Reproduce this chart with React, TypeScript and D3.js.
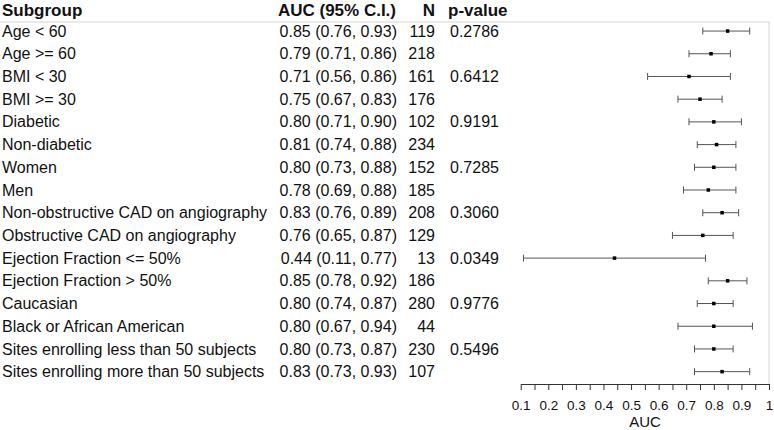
import React, { useEffect, useRef } from 'react';
import * as d3 from 'd3';

const subgroups = [
  'Age < 60', 'Age >= 60', 'BMI < 30', 'BMI >= 30', 'Diabetic', 'Non-diabetic',
  'Women', 'Men', 'Non-obstructive CAD on angiography', 'Obstructive CAD on angiography',
  'Ejection Fraction <= 50%', 'Ejection Fraction > 50%', 'Caucasian',
  'Black or African American', 'Sites enrolling less than 50 subjects',
  'Sites enrolling more than 50 subjects',
];
const auc = [0.85, 0.79, 0.71, 0.75, 0.80, 0.81, 0.80, 0.78, 0.83, 0.76, 0.44, 0.85, 0.80, 0.80, 0.80, 0.83];
const ciLow = [0.76, 0.71, 0.56, 0.67, 0.71, 0.74, 0.73, 0.69, 0.76, 0.65, 0.11, 0.78, 0.74, 0.67, 0.73, 0.73];
const ciHigh = [0.93, 0.86, 0.86, 0.83, 0.90, 0.88, 0.88, 0.88, 0.89, 0.87, 0.77, 0.92, 0.87, 0.94, 0.87, 0.93];
const counts = [119, 218, 161, 176, 102, 234, 152, 185, 208, 129, 13, 186, 280, 44, 230, 107];
const pValues = ['0.2786', '', '0.6412', '', '0.9191', '', '0.7285', '', '0.3060', '', '0.0349', '', '0.9776', '', '0.5496', ''];
const axisTicks = d3.range(0.1, 1.0001, 0.05).map(v => +v.toFixed(2));

const App = () => {
  const ref = useRef<SVGSVGElement>(null);

  useEffect(() => {
    const svg = d3.select(ref.current);
    svg.selectAll('*').remove();

    const font = 'Liberation Sans, Arial, sans-serif';
    const rows = subgroups.map((name, i) => ({
      name, auc: auc[i], lo: ciLow[i], hi: ciHigh[i], n: counts[i], p: pValues[i],
    }));

    const x = d3.scaleLinear().domain([0.1, 1]).range([520.7, 769]);
    const y = d3.scaleBand().domain(subgroups).range([19.7, 383]);
    const yc = (d: string) => (y(d) as number) + y.bandwidth() / 2;

    // frame lines
    svg.append('line').attr('x1', 0).attr('x2', 769).attr('y1', 22).attr('y2', 22)
      .attr('stroke', '#d4d4d4');
    svg.append('line').attr('x1', 769).attr('x2', 769).attr('y1', 22).attr('y2', 384)
      .attr('stroke', '#d4d4d4');

    // header
    const header = svg.append('g').attr('font-family', font).attr('font-size', 17)
      .attr('font-weight', 'bold').attr('fill', '#111');
    header.append('text').attr('x', 2).attr('y', 10).attr('dy', '0.35em').text('Subgroup');
    header.append('text').attr('x', 396).attr('y', 10).attr('dy', '0.35em')
      .attr('text-anchor', 'end').text('AUC (95% C.I.)');
    header.append('text').attr('x', 435).attr('y', 10).attr('dy', '0.35em')
      .attr('text-anchor', 'end').text('N');
    header.append('text').attr('x', 448).attr('y', 10).attr('dy', '0.35em').text('p-value');

    // table text
    const table = svg.append('g').attr('font-family', font).attr('font-size', 16).attr('fill', '#111');
    const rowG = table.selectAll('g').data(rows).enter().append('g')
      .attr('transform', d => `translate(0,${yc(d.name)})`);
    rowG.append('text').attr('x', 2).attr('dy', '0.35em').text(d => d.name);
    rowG.append('text').attr('x', 397).attr('dy', '0.35em').attr('text-anchor', 'end')
      .text(d => `${d.auc.toFixed(2)} (${d.lo.toFixed(2)}, ${d.hi.toFixed(2)})`);
    rowG.append('text').attr('x', 435).attr('dy', '0.35em').attr('text-anchor', 'end')
      .text(d => d.n);
    rowG.append('text').attr('x', 450).attr('dy', '0.35em').text(d => d.p);

    // error bars
    const bars = svg.append('g').selectAll('g').data(rows).enter().append('g')
      .attr('transform', d => `translate(0,${yc(d.name)})`);
    bars.append('line').attr('x1', d => x(d.lo)).attr('x2', d => x(d.hi))
      .attr('stroke', '#555').attr('stroke-width', 1);
    bars.append('line').attr('x1', d => x(d.lo)).attr('x2', d => x(d.lo))
      .attr('y1', -3.5).attr('y2', 3.5).attr('stroke', '#555');
    bars.append('line').attr('x1', d => x(d.hi)).attr('x2', d => x(d.hi))
      .attr('y1', -3.5).attr('y2', 3.5).attr('stroke', '#555');
    bars.append('rect').attr('x', d => x(d.auc) - 1.75).attr('y', -1.75)
      .attr('width', 3.5).attr('height', 3.5).attr('fill', '#000');

    // axis
    const axis = svg.append('g').attr('transform', 'translate(0,384)')
      .call(d3.axisBottom(x).tickValues(axisTicks).tickSize(6).tickSizeOuter(0).tickPadding(10)
        .tickFormat(d => {
          const v = +d;
          return Math.round(v * 100) % 10 === 0 ? String(+v.toFixed(1)) : '';
        }));
    axis.selectAll('path, line').attr('stroke', '#333');
    axis.selectAll('text').attr('font-family', font).attr('font-size', 13.5).attr('fill', '#111');

    svg.append('text').attr('x', 645).attr('y', 422).attr('dy', '0.35em')
      .attr('text-anchor', 'middle').attr('font-family', font).attr('font-size', 15)
      .attr('fill', '#111').text('AUC');
  }, []);

  return (
    <svg ref={ref} width={774} height={430}
      style={{ position: 'absolute', left: 0, top: 0, background: '#fff' }} />
  );
};

export default App;
